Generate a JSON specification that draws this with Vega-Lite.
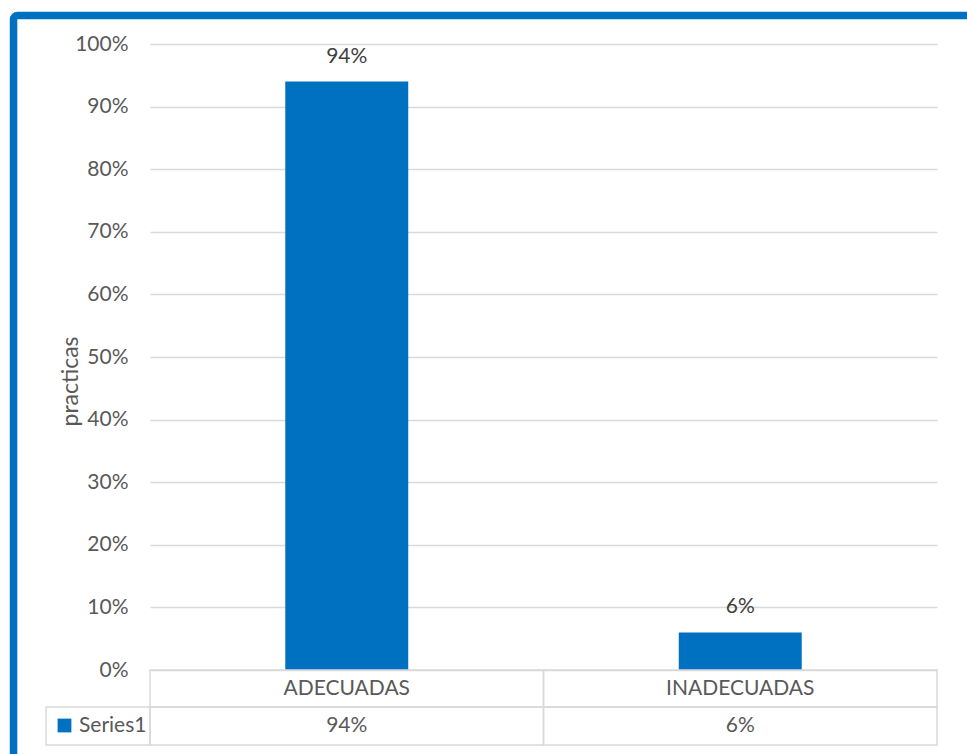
{
  "$schema": "https://vega.github.io/schema/vega-lite/v6.json",
  "width": 787,
  "height": 626,
  "autosize": {"type": "none"},
  "padding": {"left": 150, "top": 44, "right": 30, "bottom": 84},
  "background": "white",
  "data": {
    "values": [
      {"categoria": "ADECUADAS", "valor": 0.94, "serie": "Series1"},
      {"categoria": "INADECUADAS", "valor": 0.06, "serie": "Series1"}
    ]
  },
  "resolve": {"scale": {"x": "independent"}},
  "layer": [
    {
      "mark": {"type": "bar", "width": {"band": 0.3125}},
      "encoding": {
        "x": {"field": "categoria", "type": "nominal", "sort": null, "scale": {"paddingInner": 0, "paddingOuter": 0}, "axis": null},
        "y": {
          "field": "valor", "type": "quantitative",
          "scale": {"domain": [0, 1], "nice": false},
          "axis": {
            "values": [0, 0.1, 0.2, 0.3, 0.4, 0.5, 0.6, 0.7, 0.8, 0.9, 1],
            "format": ".0%",
            "title": "practicas",
            "titleAngle": -90,
            "titleX": -80,
            "titleY": 337,
            "titleAlign": "center",
            "titleBaseline": "middle"
          }
        },
        "color": {
          "field": "serie", "type": "nominal",
          "scale": {"range": ["#0070C0"]},
          "legend": {"orient": "none", "legendX": -96, "legendY": 671, "title": null}
        }
      }
    },
    {
      "mark": {"type": "text", "dy": -25, "baseline": "middle", "fontSize": 21, "color": "#404040"},
      "encoding": {
        "x": {"field": "categoria", "type": "nominal", "sort": null, "scale": {"paddingInner": 0, "paddingOuter": 0}, "axis": null},
        "y": {"field": "valor", "type": "quantitative"},
        "text": {"field": "valor", "type": "quantitative", "format": ".0%"}
      }
    },
    {
      "mark": {"type": "rect", "filled": false, "stroke": "#d9d9d9", "strokeWidth": 1.5},
      "encoding": {
        "x": {"field": "categoria", "type": "nominal", "sort": null, "scale": {"paddingInner": 0, "paddingOuter": 0}, "axis": null},
        "y": {"datum": 0, "type": "quantitative"},
        "y2": {"datum": -0.0591}
      }
    },
    {
      "mark": {"type": "rect", "filled": false, "stroke": "#d9d9d9", "strokeWidth": 1.5},
      "encoding": {
        "x": {"field": "categoria", "type": "nominal", "sort": null, "scale": {"paddingInner": 0, "paddingOuter": 0}, "axis": null},
        "y": {"datum": -0.0591, "type": "quantitative"},
        "y2": {"datum": -0.1198}
      }
    },
    {
      "mark": {"type": "text", "baseline": "middle", "fontSize": 21, "color": "#595959"},
      "encoding": {
        "x": {"field": "categoria", "type": "nominal", "sort": null, "scale": {"paddingInner": 0, "paddingOuter": 0}, "axis": null},
        "y": {"datum": -0.0304, "type": "quantitative"},
        "text": {"field": "categoria", "type": "nominal"}
      }
    },
    {
      "mark": {"type": "text", "baseline": "middle", "fontSize": 21, "color": "#595959"},
      "encoding": {
        "x": {"field": "categoria", "type": "nominal", "sort": null, "scale": {"paddingInner": 0, "paddingOuter": 0}, "axis": null},
        "y": {"datum": -0.0895, "type": "quantitative"},
        "text": {"field": "valor", "type": "quantitative", "format": ".0%"}
      }
    },
    {
      "data": {"values": [{"celda": "leyenda"}]},
      "mark": {"type": "rect", "filled": false, "stroke": "#d9d9d9", "strokeWidth": 1.5},
      "encoding": {
        "x": {"datum": -0.1321, "type": "quantitative", "scale": {"domain": [0, 1], "nice": false, "zero": false}, "axis": null},
        "x2": {"datum": 0},
        "y": {"datum": -0.0591, "type": "quantitative"},
        "y2": {"datum": -0.1198}
      }
    },
    {
      "data": {"values": [{"marco": "borde"}]},
      "mark": {"type": "rect", "filled": false, "stroke": "#0070C0", "strokeWidth": 7.5, "cornerRadius": 4},
      "encoding": {
        "x": {"datum": -0.1734, "type": "quantitative", "scale": {"domain": [0, 1], "nice": false, "zero": false}, "axis": null},
        "x2": {"datum": 1.2},
        "y": {"datum": 1.0455, "type": "quantitative"},
        "y2": {"datum": -0.2}
      }
    }
  ],
  "config": {
    "font": "Lato",
    "view": {"stroke": null},
    "axis": {
      "domain": false,
      "ticks": false,
      "grid": true,
      "gridColor": "#d9d9d9",
      "gridWidth": 1.3,
      "labelFontSize": 21,
      "labelColor": "#595959",
      "labelPadding": 22,
      "titleFontSize": 23,
      "titleFontWeight": "normal",
      "titleColor": "#595959"
    },
    "legend": {
      "padding": 0,
      "symbolType": "square",
      "symbolSize": 190,
      "symbolStrokeWidth": 0,
      "symbolOpacity": 1,
      "labelFontSize": 21,
      "labelColor": "#595959",
      "labelOffset": 4
    }
  }
}
